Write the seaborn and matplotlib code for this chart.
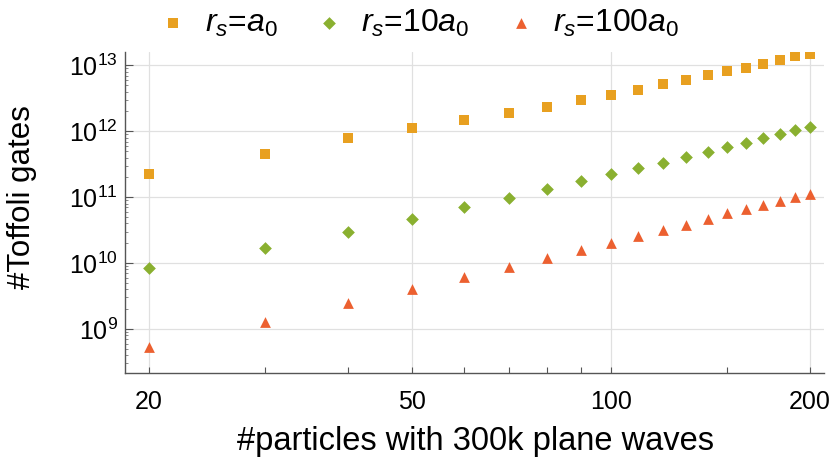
import pandas as pd
import matplotlib
matplotlib.use("Agg")
import matplotlib.pyplot as plt
import matplotlib.ticker as mticker
import seaborn as sns

# particle counts (x) and Toffoli gate counts for the three densities
particles = [20, 30, 40, 50, 60, 70, 80, 90, 100, 110, 120, 130, 140, 150,
             160, 170, 180, 190, 200]
toffoli_rs1 = [2.26e11, 4.45e11, 8.05e11, 1.12e12, 1.48e12, 1.91e12, 2.36e12,
               2.94e12, 3.62e12, 4.27e12, 5.14e12, 6.0e12, 7.05e12, 8.1e12,
               9.3e12, 1.07e13, 1.2e13, 1.37e13, 1.51e13]
toffoli_rs10 = [8.3e9, 1.7e10, 2.97e10, 4.68e10, 7.05e10, 9.86e10, 1.32e11,
                1.75e11, 2.24e11, 2.79e11, 3.36e11, 4.14e11, 4.93e11, 5.87e11,
                6.76e11, 7.96e11, 9.16e11, 1.04e12, 1.18e12]
toffoli_rs100 = [5.36e8, 1.29e9, 2.45e9, 4.0e9, 6.08e9, 8.63e9, 1.21e10,
                 1.58e10, 2.04e10, 2.58e10, 3.18e10, 3.84e10, 4.63e10, 5.72e10,
                 6.58e10, 7.64e10, 8.79e10, 1.0e11, 1.12e11]
series_labels = [r"$r_s$=$a_0$", r"$r_s$=10$a_0$", r"$r_s$=100$a_0$"]
xtick_major = [20, 50, 100, 200]
xtick_minor = [30, 40, 60, 70, 80, 90, 150]

sns.set_theme(style="ticks")
plt.rcParams["font.family"] = ["Liberation Sans", "DejaVu Sans"]
plt.rcParams["mathtext.fontset"] = "custom"
plt.rcParams["mathtext.rm"] = "Liberation Sans"
plt.rcParams["mathtext.it"] = "Liberation Sans:italic"
plt.rcParams["text.color"] = "black"
plt.rcParams["axes.labelcolor"] = "black"
plt.rcParams["xtick.labelcolor"] = "black"
plt.rcParams["ytick.labelcolor"] = "black"

df = pd.concat([
    pd.DataFrame({"n": particles, "gates": vals, "series": lab})
    for vals, lab in zip([toffoli_rs1, toffoli_rs10, toffoli_rs100], series_labels)
])

palette = dict(zip(series_labels, ["#E8A020", "#8AB030", "#EC6030"]))
markers = dict(zip(series_labels, ["s", "D", "^"]))
sizes = dict(zip(series_labels, [55, 42, 60]))

fig = plt.figure(figsize=(8.36, 4.57), dpi=100)
ax = fig.add_axes([0.1495, 0.1838, 0.8361, 0.7024])

for lab in series_labels:
    sub = df[df["series"] == lab]
    sns.scatterplot(data=sub, x="n", y="gates", color=palette[lab],
                    marker=markers[lab], s=sizes[lab], linewidth=0,
                    label=lab, ax=ax)

ax.set_xscale("log")
ax.set_yscale("log")
ax.set_xlim(18.4, 210)
ax.set_ylim(2.14e8, 1.6e13)

ax.xaxis.set_major_locator(mticker.FixedLocator(xtick_major))
ax.xaxis.set_major_formatter(mticker.FixedFormatter([str(v) for v in xtick_major]))
ax.xaxis.set_minor_locator(mticker.FixedLocator(xtick_minor))
ax.xaxis.set_minor_formatter(mticker.NullFormatter())
ax.yaxis.set_major_locator(mticker.LogLocator(base=10, numticks=20))
ax.yaxis.set_minor_locator(mticker.LogLocator(base=10, subs=range(2, 10), numticks=20))
ax.yaxis.set_minor_formatter(mticker.NullFormatter())

ax.grid(which="major", color="#e0e0e0", linewidth=0.9)
ax.set_axisbelow(True)
sns.despine(ax=ax)
for side in ["left", "bottom"]:
    ax.spines[side].set_color("#555555")
    ax.spines[side].set_linewidth(1.0)

ax.tick_params(axis="y", which="major", direction="in", length=5.5, width=0.8,
               color="#555555", labelsize=18, pad=5)
ax.tick_params(axis="y", which="minor", direction="in", length=2.5, width=0.6,
               color="#777777")
ax.tick_params(axis="x", which="both", direction="in", length=4.5, width=0.8,
               color="#555555", labelsize=18, pad=12)

ax.set_xlabel("#particles with 300k plane waves", fontsize=23.5)
ax.set_ylabel("#Toffoli gates", fontsize=22.5)
ax.xaxis.set_label_coords(0.502, -0.165)
ax.yaxis.set_label_coords(-0.126, 0.547)

sns.move_legend(ax, "center", bbox_to_anchor=(0.5, 1 - 23 / 457),
                bbox_transform=fig.transFigure, ncol=3, frameon=False,
                fontsize=23, handlelength=1.0, handletextpad=0.5,
                columnspacing=1.1, markerscale=1.0, title=None)

fig.savefig("out.png", dpi=100)
